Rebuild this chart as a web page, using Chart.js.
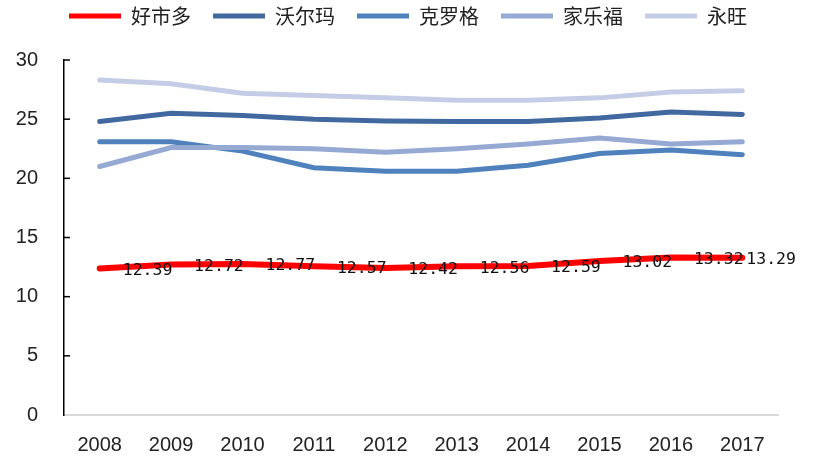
<!DOCTYPE html>
<html>
<head>
<meta charset="utf-8">
<script src="https://cdn.jsdelivr.net/npm/chart.js@4"></script>
<style>
  html, body { margin: 0; padding: 0; background: #fff; }
  #wrap { width: 823px; height: 475px; }
</style>
</head>
<body>
<div id="wrap"><canvas id="chart" width="823" height="475"></canvas></div>
<script>
// data
const years = ["2008", "2009", "2010", "2011", "2012", "2013", "2014", "2015", "2016", "2017"];
const costco = [12.39, 12.72, 12.77, 12.57, 12.42, 12.56, 12.59, 13.02, 13.32, 13.29];
const walmart = [24.8, 25.5, 25.3, 25.0, 24.85, 24.8, 24.8, 25.1, 25.6, 25.4];
const kroger = [23.1, 23.1, 22.3, 20.9, 20.6, 20.6, 21.1, 22.1, 22.4, 22.0];
const carrefour = [21.0, 22.6, 22.6, 22.5, 22.2, 22.5, 22.9, 23.4, 22.9, 23.1];
const aeon = [28.3, 28.0, 27.2, 27.0, 26.8, 26.6, 26.6, 26.8, 27.3, 27.4];
const seriesNames = ["好市多", "沃尔玛", "克罗格", "家乐福", "永旺"];
const seriesColors = ["#ff0000", "#41699f", "#4f81bd", "#95a9d3", "#c5cde6"];

const cjkFont = "'Noto Sans CJK SC', 'Noto Sans', sans-serif";
const tickFont = "'Liberation Sans', Arial, sans-serif";

// draws the value labels of the first series, to the right of each point
const valueLabels = {
    id: "valueLabels",
    afterDatasetsDraw(chart) {
        let ctx = chart.ctx;
        let meta = chart.getDatasetMeta(0);
        ctx.save();
        ctx.font = "16.5px 'DejaVu Sans Mono', monospace";
        ctx.fillStyle = "#111";
        ctx.textAlign = "left";
        ctx.textBaseline = "middle";
        meta.data.forEach((pt, i) => {
            // the last label sits closer to its point, like in the original
            let dx = i === meta.data.length - 1 ? 4 : 23;
            ctx.fillText(costco[i].toFixed(2), pt.x + dx, pt.y + 2);
        });
        ctx.restore();
    }
};

// small tick marks on the inside of the y axis
const innerTicks = {
    id: "innerTicks",
    afterDraw(chart) {
        let ctx = chart.ctx;
        let y = chart.scales.y;
        ctx.save();
        ctx.strokeStyle = "#000";
        ctx.lineWidth = 1.5;
        y.ticks.forEach(t => {
            if (t.value === 0) return;
            let py = y.getPixelForValue(t.value);
            ctx.beginPath();
            ctx.moveTo(y.right, py);
            ctx.lineTo(y.right + 6, py);
            ctx.stroke();
        });
        ctx.restore();
    }
};

// legend keeps 60px of height but is drawn higher up
const legendTweak = {
    id: "legendTweak",
    beforeInit(chart) {
        let legend = chart.legend;
        const origFit = legend.fit;
        legend.fit = function () {
            origFit.call(this);
            this.height = 60;
        };
        const origDraw = legend.draw;
        legend.draw = function (area) {
            chart.ctx.save();
            chart.ctx.translate(19, -16);
            origDraw.call(this, area);
            chart.ctx.restore();
        };
    }
};

let allData = [costco, walmart, kroger, carrefour, aeon];
let datasets = allData.map((d, i) => ({
    label: seriesNames[i],
    data: d,
    borderColor: seriesColors[i],
    backgroundColor: seriesColors[i],
    borderWidth: i === 0 ? 6 : 5,
    pointRadius: 0,
    tension: 0,
    borderCapStyle: "round",
    order: 5 - i
}));

new Chart(document.getElementById("chart").getContext("2d"), {
    type: "line",
    data: { labels: years, datasets: datasets },
    options: {
        responsive: false,
        animation: false,
        layout: { padding: { left: 0, right: 45, top: 0, bottom: 0 } },
        plugins: {
            tooltip: { enabled: false },
            legend: {
                position: "top",
                labels: {
                    boxWidth: 52,
                    boxHeight: 5,
                    padding: 22,
                    color: "#222",
                    font: { family: cjkFont, size: 20 },
                    generateLabels(chart) {
                        return chart.data.datasets.map((ds, i) => ({
                            text: ds.label,
                            fillStyle: ds.borderColor,
                            strokeStyle: ds.borderColor,
                            lineWidth: 0,
                            datasetIndex: i,
                            fontColor: "#222"
                        }));
                    }
                }
            }
        },
        scales: {
            x: {
                offset: true,
                grid: { display: false },
                border: { color: "#d9d9d9", width: 2 },
                ticks: { color: "#222", font: { family: tickFont, size: 20 }, padding: 10 },
                afterFit(scale) { scale.height = 60; }
            },
            y: {
                min: 0,
                max: 30,
                ticks: { stepSize: 5, color: "#222", font: { family: tickFont, size: 20 }, padding: 18 },
                grid: { display: false },
                border: { color: "#000", width: 1.5 },
                afterFit(scale) { scale.width = 64; }
            }
        }
    },
    plugins: [valueLabels, innerTicks, legendTweak]
});
</script>
</body>
</html>
